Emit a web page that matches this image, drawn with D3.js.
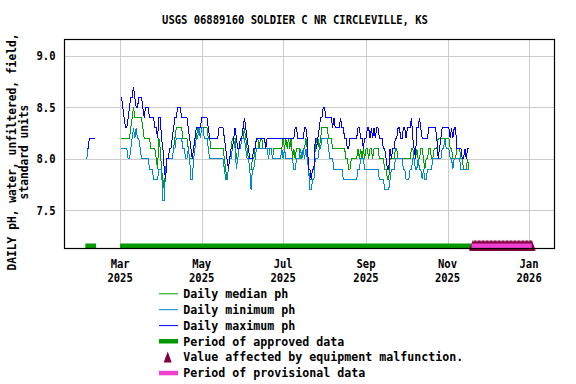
<!DOCTYPE html>
<html>
<head>
<meta charset="utf-8">
<script src="https://cdn.jsdelivr.net/npm/d3@7"></script>
<style>
  body { margin: 0; background: #fff; }
  text { font-family: "DejaVu Sans Mono", monospace; font-weight: bold; fill: #000; }
</style>
</head>
<body>
<svg id="chart" width="576" height="384"></svg>
<script>
const chartTitle = "USGS 06889160 SOLDIER C NR CIRCLEVILLE, KS";
const yTitle = ["DAILY pH, water, unfiltered, field,", "standard units"];

// short early-February run
const febStart = "2025-02-04";
const febMedian = [8.1,8.1,8.2,8.2,8.2,8.2,8.2];
const febMin = [8.0,8.1,8.2,8.2,8.2,8.2,8.2];
const febMax = [8.1,8.1,8.2,8.2,8.2,8.2,8.2];

// main run, one value per day from Mar 2
const mainStart = "2025-03-02";
const dailyMedian = [
  8.2,8.2,8.2,8.2,8.2,8.2,8.2,8.3,8.4,8.5,
  8.4,8.4,8.4,8.4,8.4,8.4,8.3,8.2,8.2,8.2,
  8.2,8.2,8.1,8.1,8.1,8.1,8.0,7.9,8.2,8.1,
  7.9,7.8,7.7,7.9,8.0,8.0,8.0,8.0,8.0,8.1,
  8.2,8.3,8.3,8.3,8.3,8.3,8.2,8.2,8.2,8.2,
  8.1,8.0,8.0,8.0,8.1,8.2,8.2,8.3,8.3,8.3,
  8.3,8.3,8.3,8.3,8.3,8.2,8.2,8.1,8.1,8.1,
  8.1,8.1,8.1,8.1,8.1,8.1,8.1,8.0,7.9,7.8,
  7.9,8.0,8.1,8.2,8.2,8.2,8.0,8.0,8.1,8.1,
  8.2,8.2,8.3,8.2,8.1,8.0,7.9,7.9,8.0,8.0,
  8.1,8.2,8.2,8.1,8.2,8.2,8.1,8.1,8.1,8.1,
  8.1,8.1,8.1,8.0,8.1,8.1,8.1,8.1,8.1,8.1,
  8.1,8.2,8.1,8.2,8.1,8.2,8.1,8.2,8.0,8.1,
  8.0,8.1,8.1,8.1,8.0,8.0,8.1,8.1,8.2,8.1,
  7.9,7.8,7.8,7.9,7.9,8.1,8.2,8.2,8.1,8.2,
  8.3,8.3,8.3,8.3,8.3,8.2,8.2,8.2,8.1,8.1,
  8.1,8.1,8.1,8.1,8.1,8.1,8.1,8.1,8.0,8.0,
  7.9,7.9,8.0,8.0,8.0,8.0,8.0,8.1,8.0,8.1,
  8.0,8.1,8.0,8.1,8.1,8.0,8.1,8.1,8.0,8.1,
  8.1,8.1,8.1,8.0,8.0,8.0,8.0,7.9,7.9,7.8,
  7.8,8.0,8.0,8.0,8.0,8.1,8.1,8.0,8.0,8.0,
  8.0,8.0,8.0,8.0,8.0,8.0,8.0,8.1,8.1,8.0,
  8.0,8.1,8.0,8.0,8.1,8.1,8.0,7.9,8.0,8.0,
  8.1,8.1,8.0,8.0,8.1,8.1,8.1,8.2,8.2,8.2,
  8.2,8.2,8.2,8.2,8.2,8.2,8.1,8.1,8.0,8.0,
  8.0,8.1,8.1,8.1,8.0,8.0,7.9,7.9,7.9,8.0,
  7.9
];
const dailyMin = [
  8.1,8.1,8.1,8.1,8.1,8.0,8.0,8.1,8.2,8.3,
  8.2,8.3,8.2,8.2,8.1,8.0,8.0,8.0,8.0,8.0,
  8.0,7.9,7.9,7.9,7.8,7.8,7.8,7.8,7.9,7.9,
  7.9,7.6,7.6,7.9,8.0,8.0,8.0,8.0,8.0,8.1,
  8.1,8.2,8.2,8.2,8.2,8.2,8.1,8.1,8.0,8.0,
  8.1,8.0,7.8,7.8,8.0,8.1,8.2,8.2,8.3,8.2,
  8.3,8.3,8.2,8.2,8.2,8.1,8.0,8.0,8.0,8.0,
  8.0,8.0,8.0,8.0,8.0,8.0,8.0,7.9,7.8,7.8,
  7.9,8.0,8.0,8.1,8.2,8.1,7.9,8.0,8.1,8.1,
  8.2,8.2,8.2,8.1,8.0,8.0,7.9,7.7,7.9,7.9,
  8.0,8.1,8.1,8.1,8.1,8.1,8.1,8.1,8.1,8.1,
  8.0,8.1,8.1,8.0,8.0,8.0,8.0,8.0,8.0,8.0,
  8.1,8.0,8.1,8.0,8.0,8.0,8.0,8.0,8.0,7.9,
  7.9,8.0,8.0,8.0,8.1,8.0,8.1,8.0,8.1,8.0,
  7.9,7.7,7.7,7.8,7.8,8.0,8.0,8.0,8.1,8.1,
  8.2,8.2,8.2,8.2,8.2,8.1,8.0,8.0,8.0,7.9,
  7.9,7.9,7.9,7.9,7.9,7.9,7.8,7.8,7.8,7.8,
  7.8,7.8,7.8,7.8,7.8,7.8,7.8,7.9,7.9,8.0,
  8.0,8.0,7.9,7.9,7.9,7.9,7.9,7.9,7.9,7.9,
  7.9,7.9,7.9,7.8,7.8,7.8,7.8,7.7,7.7,7.7,
  7.7,7.8,7.9,7.9,7.9,8.0,8.0,8.0,8.0,8.0,
  8.0,7.9,7.9,7.8,7.8,7.8,7.9,7.9,8.0,8.0,
  7.9,7.9,8.0,7.9,7.9,7.8,7.9,7.8,7.8,7.9,
  7.9,7.9,7.9,8.0,8.0,8.0,8.0,8.0,8.0,8.0,
  8.1,8.1,8.2,8.1,8.1,8.1,8.0,8.0,7.9,8.0,
  8.0,8.0,8.0,8.0,7.9,7.9,7.9,7.9,7.9,7.9,
  7.9
];
const dailyMax = [
  8.6,8.5,8.4,8.3,8.3,8.4,8.5,8.6,8.6,8.7,
  8.6,8.5,8.5,8.6,8.6,8.6,8.5,8.4,8.5,8.5,
  8.5,8.4,8.4,8.4,8.4,8.3,8.3,8.2,8.4,8.4,
  8.2,8.1,7.9,7.8,8.0,8.0,8.1,8.1,8.2,8.3,
  8.4,8.4,8.5,8.5,8.5,8.4,8.4,8.4,8.4,8.4,
  8.3,8.2,8.1,8.0,8.1,8.2,8.3,8.3,8.3,8.3,
  8.4,8.4,8.4,8.4,8.4,8.3,8.2,8.2,8.2,8.2,
  8.2,8.2,8.2,8.3,8.3,8.3,8.3,8.2,8.1,8.0,
  7.9,8.0,8.1,8.1,8.2,8.3,8.2,8.1,8.1,8.2,
  8.2,8.3,8.4,8.3,8.2,8.1,8.0,8.0,8.0,8.1,
  8.1,8.2,8.2,8.2,8.2,8.2,8.2,8.2,8.1,8.2,
  8.2,8.2,8.2,8.2,8.2,8.2,8.2,8.2,8.2,8.2,
  8.2,8.2,8.2,8.2,8.2,8.2,8.2,8.2,8.2,8.2,
  8.3,8.3,8.2,8.2,8.2,8.2,8.2,8.3,8.3,8.2,
  7.9,7.9,7.8,7.9,7.9,8.2,8.1,8.2,8.3,8.4,
  8.4,8.5,8.5,8.4,8.4,8.4,8.4,8.4,8.3,8.4,
  8.3,8.3,8.3,8.3,8.4,8.3,8.3,8.2,8.2,8.1,
  8.1,8.2,8.2,8.2,8.2,8.2,8.2,8.3,8.3,8.2,
  8.2,8.1,8.2,8.2,8.3,8.3,8.2,8.3,8.2,8.3,
  8.2,8.3,8.3,8.2,8.2,8.2,8.1,8.1,8.0,7.9,
  7.9,8.1,8.0,8.1,8.1,8.2,8.2,8.3,8.3,8.2,
  8.2,8.3,8.3,8.2,8.3,8.3,8.3,8.4,8.2,8.1,
  8.0,8.3,8.3,8.4,8.3,8.2,8.2,8.2,8.2,8.2,
  8.3,8.3,8.3,8.3,8.3,8.3,8.2,8.0,8.1,8.2,
  8.3,8.3,8.3,8.3,8.3,8.3,8.2,8.3,8.2,8.3,
  8.3,8.1,8.1,8.1,8.1,8.0,8.0,8.1,8.0,8.1,
  8.1
];

const approvedPeriods = [["2025-02-03", "2025-02-11"], ["2025-03-01", "2025-11-19"]];
const provisionalPeriods = [["2025-11-19", "2026-01-03"]];
const malfunctionPeriod = ["2025-11-20", "2026-01-03"];

const xTickDates = ["2025-03-01", "2025-05-01", "2025-07-01", "2025-09-01", "2025-11-01", "2026-01-01"];
const xTickMonths = ["Mar", "May", "Jul", "Sep", "Nov", "Jan"];
const xTickYears = ["2025", "2025", "2025", "2025", "2025", "2026"];
const yTicks = [7.5, 8.0, 8.5, 9.0];

const legendItems = [
  {label: "Daily median ph", kind: "line", color: "#00a000"},
  {label: "Daily minimum ph", kind: "line", color: "#0088cc"},
  {label: "Daily maximum ph", kind: "line", color: "#0000ff"},
  {label: "Period of approved data", kind: "bar", color: "#009900"},
  {label: "Value affected by equipment malfunction.", kind: "tri", color: "#800040"},
  {label: "Period of provisional data", kind: "bar", color: "#f040d0"}
];

const parse = d3.timeParse("%Y-%m-%d");
const plotL = 64, plotR = 554, plotT = 39, plotB = 248;

const svg = d3.select("#chart");

const x = d3.scaleTime()
    .domain([new Date(2025, 0, 18), new Date(2026, 0, 19, 16)])
    .range([plotL, plotR]);
const y = d3.scaleLinear()
    .domain([7.1335, 9.165])
    .range([plotB, plotT]);

// squeeze monospace text to the bitmap font's advance width
function fit(sel, str, charW) {
  sel.text(str)
    .attr("textLength", str.length * charW)
    .attr("lengthAdjust", "spacingAndGlyphs");
}

// grid
svg.append("g").selectAll("line")
    .data(yTicks).enter().append("line")
    .attr("x1", plotL).attr("x2", plotR)
    .attr("y1", d => Math.round(y(d)) + 0.5).attr("y2", d => Math.round(y(d)) + 0.5)
    .attr("stroke", "#cccccc");
svg.append("g").selectAll("line")
    .data(xTickDates).enter().append("line")
    .attr("x1", d => Math.round(x(parse(d))) + 0.5).attr("x2", d => Math.round(x(parse(d))) + 0.5)
    .attr("y1", plotT).attr("y2", plotB)
    .attr("stroke", "#cccccc");

// approved periods
svg.append("g").selectAll("rect")
    .data(approvedPeriods).enter().append("rect")
    .attr("x", d => x(parse(d[0])))
    .attr("width", d => x(parse(d[1])) - x(parse(d[0])))
    .attr("y", 243.5).attr("height", 4.5)
    .attr("fill", "#009900");

// equipment malfunction markers, one per day
const triangle = "M0,-5.5L4,5.5L-4,5.5Z";
svg.append("g").selectAll("path")
    .data(d3.timeDay.range(parse(malfunctionPeriod[0]), d3.timeDay.offset(parse(malfunctionPeriod[1]), 1)))
    .enter().append("path")
    .attr("d", triangle)
    .attr("transform", d => `translate(${x(d)},245.3)`)
    .attr("fill", "#800040");

// provisional periods
svg.append("g").selectAll("rect")
    .data(provisionalPeriods).enter().append("rect")
    .attr("x", d => x(parse(d[0])))
    .attr("width", d => x(parse(d[1])) - x(parse(d[0])))
    .attr("y", 243.5).attr("height", 4.5)
    .attr("fill", "#f040d0");

// daily series
const line = d3.line()
    .x(d => x(d.date))
    .y(d => y(d.value));

function toPoints(start, values) {
  const s = parse(start);
  return values.map((v, i) => ({date: d3.timeDay.offset(s, i), value: v}));
}

const series = [
  {color: "#00a000", runs: [[febStart, febMedian], [mainStart, dailyMedian]]},
  {color: "#0088cc", runs: [[febStart, febMin], [mainStart, dailyMin]]},
  {color: "#0000ff", runs: [[febStart, febMax], [mainStart, dailyMax]]}
];
series.forEach(s => {
  s.runs.forEach(r => {
    svg.append("path")
      .datum(toPoints(r[0], r[1]))
      .attr("d", line)
      .attr("fill", "none")
      .attr("stroke", s.color)
      .attr("stroke-width", 1)
      .attr("shape-rendering", "crispEdges");
  });
});

// frame
svg.append("rect")
    .attr("x", plotL + 0.5).attr("y", plotT + 0.5)
    .attr("width", plotR - plotL).attr("height", plotB - plotT)
    .attr("fill", "none").attr("stroke", "#000").attr("stroke-width", 1.2);

// title
svg.append("text")
    .attr("x", 295).attr("y", 24)
    .attr("text-anchor", "middle")
    .attr("font-size", 12)
    .call(fit, chartTitle, 6.33);

// y tick labels
yTicks.forEach(t => {
  svg.append("text")
    .attr("x", 55.5).attr("y", y(t) + 4.5)
    .attr("text-anchor", "end")
    .attr("font-size", 12)
    .call(fit, d3.format(".1f")(t), 6.33);
});

// x tick labels
xTickDates.forEach((d, i) => {
  const cx = x(parse(d));
  svg.append("text")
    .attr("x", cx).attr("y", 268)
    .attr("text-anchor", "middle").attr("font-size", 12)
    .call(fit, xTickMonths[i], 6.33);
  svg.append("text")
    .attr("x", cx).attr("y", 282)
    .attr("text-anchor", "middle").attr("font-size", 12)
    .call(fit, xTickYears[i], 6.33);
});

// y title, two lines
yTitle.forEach((t, i) => {
  svg.append("text")
    .attr("transform", `translate(${15.5 + i * 12},152) rotate(-90)`)
    .attr("text-anchor", "middle")
    .attr("font-size", 12)
    .call(fit, t, 6.77);
});

// legend
const legend = svg.append("g").attr("transform", "translate(0,293.3)");
legendItems.forEach((d, i) => {
  const g = legend.append("g").attr("transform", `translate(0,${i * 15.9})`);
  if (d.kind === "line") {
    g.append("line").attr("x1", 159).attr("x2", 178).attr("y1", 0.5).attr("y2", 0.5)
      .attr("stroke", d.color).attr("stroke-width", 1);
  } else if (d.kind === "bar") {
    g.append("rect").attr("x", 159).attr("width", 19).attr("y", -2).attr("height", 4.5)
      .attr("fill", d.color);
  } else {
    g.append("path").attr("d", triangle).attr("transform", "translate(167.7,0)")
      .attr("fill", d.color);
  }
  g.append("text")
    .attr("x", 183.3).attr("y", 4.5)
    .attr("font-size", 12.5)
    .call(fit, d.label, 7.0);
});
</script>
</body>
</html>
